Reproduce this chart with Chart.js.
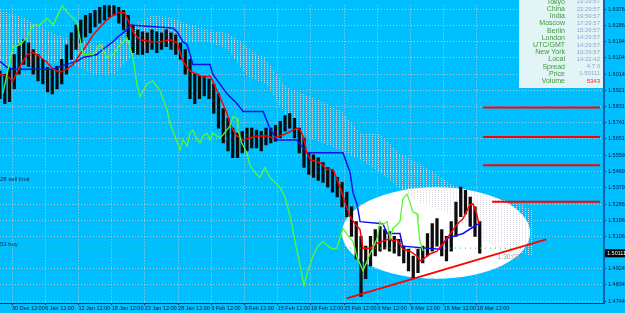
<!DOCTYPE html>
<html><head><meta charset="utf-8">
<script src="https://cdn.jsdelivr.net/npm/chart.js@4.4.1/dist/chart.umd.min.js"></script>
<style>html,body{margin:0;padding:0;background:#00BFFF;overflow:hidden}</style>
</head><body>
<canvas id="c" width="625" height="313"></canvas>
<script>
// ---------- DATA ----------
const xTickLabels = ['30 Dec 12:00','6 Jan 12:00','12 Jan 12:00','18 Jan 12:00','22 Jan 12:00','28 Jan 12:00','3 Feb 12:00','9 Feb 12:00','15 Feb 12:00','19 Feb 12:00','25 Feb 12:00','3 Mar 12:00','9 Mar 12:00','15 Mar 12:00','18 Mar 12:00'];
const priceTicks = [1.63765,1.62865,1.61940,1.61040,1.60140,1.59215,1.58315,1.57415,1.56515,1.55590,1.54690,1.53790,1.52865,1.51965,1.51065,1.49240,1.48340,1.47440];
const lastPrice = 1.50111;
const barTimer = '1:30:03';

const highs = [1.6030,1.6013,1.6041,1.6123,1.6178,1.6206,1.6189,1.6151,1.6123,1.6096,
1.6052,1.6041,1.6057,1.6096,1.6178,1.6244,1.6288,1.6316,1.6343,1.6354,
1.6371,1.6387,1.6398,1.6398,1.6398,1.6387,1.6371,1.6343,1.6288,1.6261,
1.6250,1.6244,1.6261,1.6250,1.6244,1.6261,1.6244,1.6233,1.6189,1.6151,
1.6096,1.6013,1.6002,1.6002,1.5986,1.5958,1.5903,1.5821,1.5766,1.5711,
1.5683,1.5694,1.5711,1.5711,1.5700,1.5694,1.5711,1.5711,1.5727,1.5749,
1.5782,1.5793,1.5766,1.5711,1.5656,1.5573,1.5562,1.5546,1.5518,1.5491,
1.5474,1.5436,1.5408,1.5353,1.5271,1.5188,1.5106,1.5051,1.5106,1.5144,
1.5161,1.5144,1.5133,1.5106,1.5089,1.5051,1.5034,1.4996,1.5034,1.5051,
1.5122,1.5177,1.5205,1.5144,1.5106,1.5188,1.5298,1.5381,1.5364,1.5326,
1.5271,1.5188];
const lows = [1.5876,1.5848,1.5859,1.5931,1.6013,1.6068,1.6057,1.6013,1.5975,1.5958,
1.5914,1.5903,1.5931,1.5958,1.6013,1.6096,1.6151,1.6189,1.6222,1.6244,
1.6277,1.6299,1.6316,1.6332,1.6343,1.6299,1.6261,1.6206,1.6134,1.6123,
1.6123,1.6134,1.6151,1.6134,1.6151,1.6167,1.6151,1.6123,1.6096,1.6013,
1.5876,1.5848,1.5876,1.5892,1.5876,1.5793,1.5711,1.5628,1.5584,1.5546,
1.5546,1.5573,1.5584,1.5601,1.5601,1.5584,1.5617,1.5628,1.5639,1.5656,
1.5694,1.5711,1.5656,1.5573,1.5491,1.5452,1.5436,1.5419,1.5408,1.5381,
1.5353,1.5326,1.5271,1.5216,1.5106,1.4979,1.4770,1.4869,1.4941,1.4996,
1.5023,1.5034,1.5023,1.5012,1.4996,1.4957,1.4913,1.4869,1.4902,1.4957,
1.4996,1.5023,1.5051,1.4996,1.4968,1.5023,1.5106,1.5216,1.5232,1.5161,
1.5106,1.5012];

// Tenkan-sen (red)
const tenkanX = [0,1.5,2.7,4.2,5.7,6.9,8.4,9.9,11.2,12.6,14.1,15.4,16.8,18.3,19.6,21.1,22.5,23.8,25.3,26.3,27.4,28.4,29.5,31.6,33.7,35.8,37.3,38.5,40.0,41.5,42.7,44.2,44.8,45.7,46.3,46.9,47.8,48.4,49.1,49.9,51.2,52.6,54.1,56.2,57.5,58.9,60.4,61.7,62.5,63.2,63.8,64.6,65.3,67.4,68.8,70.1,71.6,72.6,73.7,74.7,75.8,76.4,77.9,79.4,80.6,82.1,82.7,83.6,84.2,84.8,86.3,87.8,88.4,89.1,90.5,92.0,93.3,94.7,96.2,97.5,98.9,99.6,100.4,100.8];
const tenkanY = [1.6013,1.6002,1.5975,1.6057,1.6123,1.6134,1.6112,1.6079,1.6041,1.6024,1.6041,1.6068,1.6123,1.6178,1.6233,1.6277,1.6316,1.6343,1.6360,1.6354,1.6288,1.6233,1.6206,1.6195,1.6195,1.6206,1.6189,1.6085,1.6030,1.6013,1.5996,1.6002,1.5975,1.5920,1.5887,1.5848,1.5793,1.5738,1.5700,1.5667,1.5645,1.5656,1.5667,1.5667,1.5656,1.5667,1.5683,1.5700,1.5711,1.5700,1.5667,1.5573,1.5535,1.5518,1.5480,1.5480,1.5381,1.5298,1.5216,1.5177,1.5144,1.5040,1.5040,1.5067,1.5078,1.5095,1.5078,1.5089,1.5062,1.5034,1.5023,1.4996,1.4968,1.4979,1.5007,1.5023,1.5067,1.5117,1.5172,1.5205,1.5282,1.5287,1.5227,1.5177];

// Kijun-sen (blue)
const kijunX = [0,1.5,2.7,11.2,12.6,14.1,16.2,17.5,20.4,21.1,23.8,24.6,26.7,27.4,36.4,37.3,38.5,39.4,40.0,40.6,44.2,44.8,47.8,49.9,51.2,55.4,56.8,58.3,62.5,63.8,64.6,72.2,73.7,74.3,75.2,75.8,80.6,81.5,84.2,84.8,92.6,94.1,97.5,100.4,101.1];
const kijunY = [1.6085,1.6052,1.6041,1.6041,1.6057,1.6068,1.6085,1.6107,1.6123,1.6140,1.6195,1.6217,1.6261,1.6288,1.6272,1.6250,1.6195,1.6178,1.6123,1.6068,1.6068,1.6013,1.5903,1.5848,1.5804,1.5804,1.5711,1.5645,1.5645,1.5601,1.5573,1.5573,1.5463,1.5353,1.5282,1.5188,1.5177,1.5122,1.5122,1.5051,1.5034,1.5095,1.5122,1.5172,1.5177];

// Chikou span (green)
const chikouX = [0.6,2.7,4.2,5.7,6.9,8.4,9.9,11.2,13.1,14.1,16.2,16.8,17.5,19.6,21.1,22.5,23.8,25.3,26.7,28.0,28.8,29.5,30.9,32.2,33.7,35.2,35.8,37.9,38.5,39.4,40.0,40.6,41.5,42.1,42.7,43.6,44.2,44.8,45.7,46.3,46.9,48.4,49.1,49.9,50.1,50.9,52.0,52.6,53.7,54.7,55.8,56.8,57.9,58.9,60.0,61.1,62.1,63.2,64.0,64.8,65.9,66.9,68.0,69.1,70.1,70.9,72.2,73.1,73.7,74.3,75.2,75.8,76.4,77.3,77.9,78.5,79.4,80.0,80.6,81.5,82.1,82.7,83.6,84.2,84.8,85.7,86.3,86.9,87.8,88.0,88.4,89.1];
const chikouY = [1.5903,1.6162,1.6178,1.6217,1.6288,1.6288,1.6327,1.6288,1.6398,1.6360,1.6305,1.6217,1.6123,1.6123,1.6178,1.6107,1.6123,1.6178,1.6217,1.6107,1.5958,1.5887,1.5958,1.5975,1.5920,1.5810,1.5738,1.5590,1.5645,1.5612,1.5683,1.5700,1.5645,1.5628,1.5667,1.5683,1.5645,1.5683,1.5667,1.5656,1.5672,1.5722,1.5777,1.5766,1.5700,1.5628,1.5573,1.5502,1.5463,1.5436,1.5491,1.5436,1.5408,1.5381,1.5326,1.5216,1.5078,1.4941,1.4831,1.4913,1.4996,1.5051,1.5078,1.5051,1.5034,1.5040,1.5150,1.5117,1.5095,1.5078,1.4985,1.4952,1.4913,1.4968,1.5007,1.5040,1.5095,1.5188,1.5172,1.5188,1.5095,1.5150,1.5172,1.5188,1.5315,1.5342,1.5298,1.5243,1.5232,1.5188,1.5078,1.5023];

// Ichimoku cloud (Senkou spans)
const cloudX = [0,4,8,12,16,20,24,28,32,36,40,44,48,52,56,60,64,68,72,76,80,84,88,92,96,100,104,108,112];
const senkouB = [1.6371,1.6343,1.6288,1.6233,1.6206,1.6178,1.6189,1.6288,1.6343,1.6332,1.6288,1.6261,1.6244,1.6167,1.6096,1.5947,1.5903,1.5859,1.5804,1.5683,1.5683,1.5573,1.5518,1.5452,1.5386,1.5353,1.5326,1.5298,1.5254];
const senkouA = [1.6041,1.6057,1.6068,1.6079,1.6057,1.6013,1.6013,1.6123,1.6178,1.6189,1.6195,1.6195,1.6151,1.6002,1.5958,1.5793,1.5672,1.5628,1.5584,1.5535,1.5463,1.5381,1.5298,1.5260,1.5210,1.5106,1.5051,1.5023,1.4996];

// Horizontal levels
const levelPrices = [1.5827,1.5662,1.5503,1.5299];
const levelStart = [101.7,101.7,101.7,103.6];
const levelEnd = 126.3;
const orderPrices = [1.5403,1.5040];
const orderLabels = ['28 sell limit','53 buy'];

// Trend line
const trendX = [73,115];
const trendY = [1.4759,1.5089];

// Ellipse (bounds in data units)
const ellipseX = [72,111.6];
const ellipseY = [1.4869,1.5381];

// Info panel
const infoLabels = ['Tokyo','China','India','Moscow','Berlin','London','UTC/GMT','New York','Local','Spread','Price','Volume'];
const infoValues = ['23:29:57','22:29:57','19:59:57','17:29:57','15:29:57','14:29:57','14:29:57','10:29:57','14:22:42','4.7 0','1.50111','5343'];

// ---------- LAYOUT CONSTANTS ----------
const X_MAX = 126.95;
const Y_MIN = 1.4733, Y_MAX = 1.63985;
const xTickStart = 2.53, xTickStep = 6.992;

function dotPattern(color){
  const c = document.createElement('canvas'); c.width = 3; c.height = 2;
  const g = c.getContext('2d'); g.fillStyle = color; g.fillRect(0,0,1,1);
  return g.createPattern(c,'repeat');
}
const ctx = document.getElementById('c').getContext('2d');
const grayDots = dotPattern('rgba(220,215,225,0.95)');
const sandy = dotPattern('#F2AE78');

const pts = (xs,ys)=>xs.map((x,i)=>({x:x,y:ys[i]}));
const lineDs = (data,color,w,order,extra)=>Object.assign({type:'line',data:data,borderColor:color,borderWidth:w,pointRadius:0,fill:false,tension:0,order:order},extra||{});

const datasets = [
  lineDs(pts(cloudX,senkouA),'rgba(0,0,0,0)',0,20,{fill:{target:1,above:sandy,below:grayDots}}),
  lineDs(pts(cloudX,senkouB),'rgba(0,0,0,0)',0,21),
  {type:'bar',order:10,data:highs.map((h,i)=>({x:i,y:[lows[i],h]})),backgroundColor:'#0c0c0c',barThickness:2.6,borderWidth:0},
  lineDs(pts(kijunX,kijunY),'#1010E8',1.5,6),
  lineDs(pts(tenkanX,tenkanY),'#FF0000',1.5,5),
  lineDs(pts(chikouX,chikouY),'#5CF532',1.3,4),
];
levelPrices.forEach((p,i)=>datasets.push(lineDs([{x:levelStart[i],y:p},{x:levelEnd,y:p}],'#FF0000',2,2)));
orderPrices.forEach(p=>datasets.push(lineDs([{x:0,y:p},{x:X_MAX,y:p}],'#2ECC40',1,8,{borderDash:[1,4]})));
datasets.push(lineDs(pts(trendX,trendY),'#FF0000',1.8,1));

const bgPlugin = {id:'bg',beforeDraw(ch){const c=ch.ctx;c.save();c.fillStyle='#00BFFF';c.fillRect(0,0,ch.width,ch.height);c.restore();}};
const ellipsePlugin = {id:'ell',beforeDatasetsDraw(ch){
  const xs=ch.scales.x, ys=ch.scales.y, c=ch.ctx;
  const x1=xs.getPixelForValue(ellipseX[0]), x2=xs.getPixelForValue(ellipseX[1]);
  const y1=ys.getPixelForValue(ellipseY[1]), y2=ys.getPixelForValue(ellipseY[0]);
  c.save(); c.beginPath();
  c.ellipse((x1+x2)/2,(y1+y2)/2,(x2-x1)/2,(y2-y1)/2,0,0,Math.PI*2);
  c.fillStyle='#FFFFFF'; c.fill(); c.restore();
}};
const overlayPlugin = {id:'ovl',afterDraw(ch){
  const xs=ch.scales.x, ys=ch.scales.y, c=ch.ctx, a=ch.chartArea;
  c.save();
  // plot frame
  c.strokeStyle='#0A66B0'; c.lineWidth=2;
  c.beginPath(); c.moveTo(a.right+1,0); c.lineTo(a.right+1,a.bottom); c.stroke();
  c.strokeStyle='#17314F'; c.lineWidth=1;
  c.beginPath(); c.moveTo(0,a.bottom+0.5); c.lineTo(a.right+2,a.bottom+0.5); c.stroke();
  // order labels
  c.font='6px "Liberation Sans"'; c.fillStyle='#003060'; c.textBaseline='bottom'; c.textAlign='left';
  orderPrices.forEach((p,i)=>c.fillText(orderLabels[i],0,ys.getPixelForValue(p)-0.5));
  // bar timer
  c.font='6.5px "Liberation Sans"'; c.fillStyle='#9AA0A0'; c.textBaseline='middle';
  c.fillText(barTimer, xs.getPixelForValue(104.8), ys.getPixelForValue(lastPrice)+4);
  // info panel
  const px0=519, pw=a.right-px0, ph=88;
  c.fillStyle='rgba(236,246,246,0.96)'; c.fillRect(px0,0,pw,ph);
  c.textBaseline='middle';
  infoLabels.forEach((l,i)=>{
    const y=1.8+i*7.2;
    c.font='7px "Liberation Sans"'; c.textAlign='right'; c.fillStyle='#3A9A3A'; c.fillText(l,565,y);
    c.font='6px "Liberation Sans"'; c.textAlign='right'; c.fillStyle=i===11?'#FF2020':'#8FA6D0'; c.fillText(infoValues[i],600,y);
  });
  // last price label
  const yp=ys.getPixelForValue(lastPrice);
  c.fillStyle='#000'; c.fillRect(a.right+2,yp-4,24,8);
  c.fillStyle='#fff'; c.font='5.5px "Liberation Sans"'; c.textAlign='left'; c.fillText(lastPrice.toFixed(5),a.right+4,yp);
  c.restore();
}};

new Chart(ctx,{
  data:{datasets:datasets},
  options:{
    responsive:false, animation:false, devicePixelRatio:1,
    layout:{padding:0},
    plugins:{legend:{display:false},title:{display:false},tooltip:{enabled:false}},
    scales:{
      x:{type:'linear',min:0,max:X_MAX,offset:false,position:'bottom',
        grid:{offset:false,color:'rgba(205,205,205,0.9)',lineWidth:1,tickLength:2,tickColor:'#1a3050'},
        border:{display:false,dash:[1,2]},
        afterBuildTicks(ax){ax.ticks=xTickLabels.map((l,i)=>({value:xTickStart+i*xTickStep}));},
        afterFit(ax){ax.height=10;},
        ticks:{autoSkip:false,maxRotation:0,align:'start',padding:0,color:'#0a1a40',font:{family:'Liberation Sans',size:5.5},
          callback:(v,i)=>xTickLabels[i]}},
      y:{type:'linear',min:Y_MIN,max:Y_MAX,position:'right',beginAtZero:false,
        grid:{color:'rgba(205,205,205,0.9)',lineWidth:1,tickLength:3,tickColor:'#1a3050'},
        border:{display:false,dash:[1,2]},
        afterBuildTicks(ax){ax.ticks=priceTicks.map(v=>({value:v}));},
        afterFit(ax){ax.width=22;},
        ticks:{autoSkip:false,padding:2,color:'#0a1a40',font:{family:'Liberation Sans',size:5.5},
          callback:(v)=>v.toFixed(5)}}
    }
  },
  plugins:[bgPlugin,ellipsePlugin,overlayPlugin]
});
</script>
</body></html>
